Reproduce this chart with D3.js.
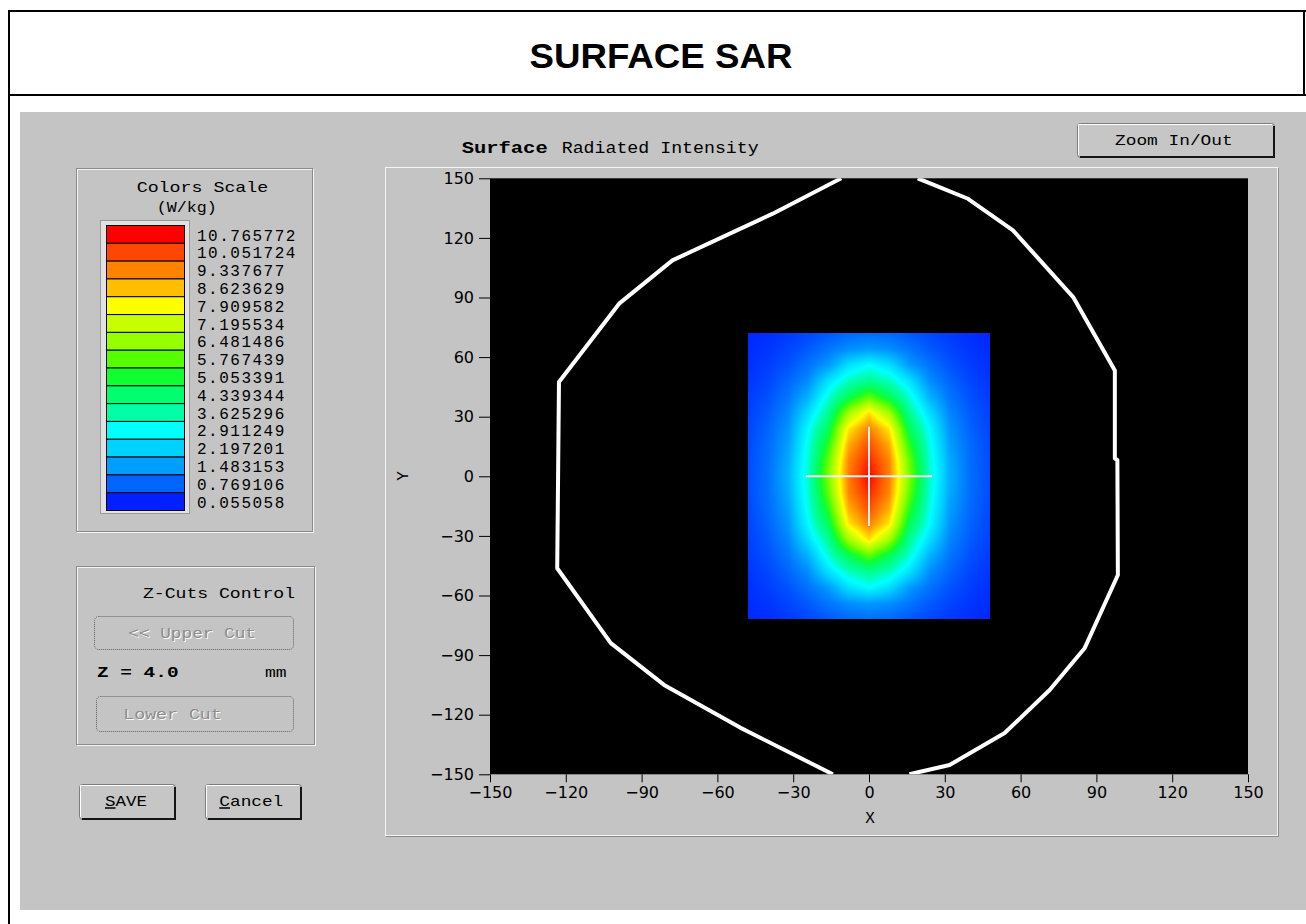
<!DOCTYPE html>
<html>
<head>
<meta charset="utf-8">
<script src="https://cdn.jsdelivr.net/npm/d3@7"></script>
<style>
  body { margin: 0; background: #fff; }
  svg { display: block; }
</style>
</head>
<body>
<div id="chart"></div>
<script>
// colour scale of the SAR window (W/kg), top to bottom
const legendValues = [10.765772, 10.051724, 9.337677, 8.623629, 7.909582, 7.195534, 6.481486, 5.767439,
                      5.053391, 4.339344, 3.625296, 2.911249, 2.197201, 1.483153, 0.769106, 0.055058];
const legendColors = ["#ff0000", "#ff4600", "#ff8200", "#ffbe00", "#ffff00", "#c8ff00", "#96ff00", "#55ff00",
                      "#10ff30", "#00ff6e", "#00ffa6", "#00ffff", "#00d2ff", "#009eff", "#0064ff", "#0020ff"];

const xTicks = [-150, -120, -90, -60, -30, 0, 30, 60, 90, 120, 150];
const yTicks = [-150, -120, -90, -60, -30, 0, 30, 60, 90, 120, 150];

// scanned area, one quadrant (mm) - the field is mirrored in x and y
const gridX = [0, 8, 16, 24, 32, 40, 48];
const gridY = [0, 8, 16, 24, 32, 40, 48, 56, 64, 72];
const sarQuadrant = [
  [10.77, 9.41, 6.20, 3.33, 1.70, 0.90, 0.50],
  [10.39, 9.30, 5.92, 3.24, 1.63, 0.88, 0.49],
  [ 9.98, 8.83, 5.33, 3.09, 1.49, 0.84, 0.47],
  [ 9.37, 8.14, 4.59, 2.87, 1.35, 0.76, 0.43],
  [ 8.21, 6.61, 3.85, 2.37, 1.17, 0.67, 0.38],
  [ 5.83, 4.61, 3.20, 1.76, 0.97, 0.56, 0.33],
  [ 3.90, 3.41, 2.45, 1.28, 0.78, 0.45, 0.27],
  [ 2.90, 2.41, 1.44, 0.95, 0.58, 0.36, 0.20],
  [ 1.43, 1.29, 0.98, 0.66, 0.43, 0.27, 0.17],
  [ 0.88, 0.81, 0.63, 0.45, 0.31, 0.20, 0.12]
];

const crossHalf = 25;
const zCut = 4.0;

// phantom outline (mm)
const outlineLeft = [[-11, 150], [-38.1, 132.2], [-77.8, 108.7], [-98.9, 86.9], [-122.7, 47.5], [-123.4, -46.3],
                     [-102.2, -84], [-81.1, -105], [-51, -126.5], [-14.3, -150]];
const outlineRight = [[19.3, 150], [39.2, 139.7], [57, 123.8], [80.8, 90.2], [97.3, 53.3], [97.3, 8.9], [98.3, 8.2],
                      [98.5, -49.7], [85.4, -86.4], [71.5, -107.6], [53.7, -129.2], [31.9, -145.3], [16, -150]];

const W = 1306, H = 924;
const MONO = "'Liberation Mono', 'DejaVu Sans Mono', monospace";

const svg = d3.select("#chart").append("svg")
  .attr("width", W)
  .attr("height", H);

function monoText(g, x, y, str, o = {}) {
  const t = g.append("text")
    .attr("x", x).attr("y", y)
    .attr("dy", "0.35em")
    .attr("font-family", MONO)
    .attr("font-size", o.size || 15)
    .attr("text-anchor", o.anchor || "start")
    .attr("fill", o.fill || "#000");
  if (o.bold) t.attr("font-weight", "bold");
  if (o.len) t.attr("textLength", o.len).attr("lengthAdjust", "spacingAndGlyphs");
  if (o.spacing) t.attr("letter-spacing", o.spacing);
  t.text(str);
  return t;
}

// page frame + title
svg.append("rect").attr("x", 20).attr("y", 112).attr("width", 1286).attr("height", 798).attr("fill", "#c4c4c4");
const frame = svg.append("g").attr("stroke", "#000").attr("stroke-width", 2);
frame.append("line").attr("x1", 8).attr("x2", W).attr("y1", 11).attr("y2", 11);
frame.append("line").attr("x1", 8).attr("x2", W).attr("y1", 95).attr("y2", 95);
frame.append("line").attr("x1", 9).attr("x2", 9).attr("y1", 10).attr("y2", H);
frame.append("line").attr("x1", 1304).attr("x2", 1304).attr("y1", 10).attr("y2", 96);

svg.append("text")
  .attr("x", 661).attr("y", 68)
  .attr("text-anchor", "middle")
  .attr("font-family", "'Liberation Sans', Arial, sans-serif")
  .attr("font-weight", "bold")
  .attr("font-size", 35)
  .attr("textLength", 263)
  .attr("lengthAdjust", "spacingAndGlyphs")
  .text("SURFACE SAR");

// etched group boxes
function etched(x, y, w, h) {
  svg.append("rect").attr("x", x + 1.5).attr("y", y + 1.5).attr("width", w).attr("height", h)
    .attr("fill", "none").attr("stroke", "#f4f4f4").attr("stroke-width", 1);
  svg.append("rect").attr("x", x + 0.5).attr("y", y + 0.5).attr("width", w).attr("height", h)
    .attr("fill", "none").attr("stroke", "#8a8a8a").attr("stroke-width", 1);
}
etched(76, 168, 236, 363);
etched(76, 566, 238, 178);

// plot panel frame
svg.append("rect").attr("x", 385.5).attr("y", 167.5).attr("width", 892).attr("height", 668)
  .attr("fill", "none").attr("stroke", "#f4f4f4");
svg.append("path").attr("d", "M386,836.5H1278.5V168").attr("fill", "none").attr("stroke", "#8a8a8a");

// ---- colours scale ----
monoText(svg, 136.7, 186.7, "Colors Scale", { len: 131.6 });
monoText(svg, 156.7, 206.7, "(W/kg)", { len: 60 });

svg.append("rect").attr("x", 100.5).attr("y", 220.5).attr("width", 89).attr("height", 293)
  .attr("fill", "#e2e2e2").attr("stroke", "#9a9a9a");
const cellY = d3.scaleBand().domain(d3.range(legendValues.length)).range([225, 510]);
const legend = svg.append("g");
legend.selectAll("rect")
  .data(legendColors)
  .join("rect")
  .attr("x", 106.5)
  .attr("y", (d, i) => cellY(i) + 0.5)
  .attr("width", 78)
  .attr("height", cellY.bandwidth())
  .attr("fill", d => d)
  .attr("stroke", "#000")
  .attr("stroke-width", 1);
const fmt = d3.format(".6f");
legendValues.forEach((v, i) => {
  monoText(legend, 197, cellY(i) + cellY.bandwidth() / 2 + 1, fmt(v), { spacing: 1.5, size: 16 });
});

// ---- Z cuts control ----
monoText(svg, 143, 592.3, "Z-Cuts Control", { len: 152 });

function disabledButton(x, y, w, h, label, tx, len) {
  svg.append("rect").attr("x", x + 0.5).attr("y", y + 0.5).attr("width", w).attr("height", h).attr("rx", 4)
    .attr("fill", "none").attr("stroke", "#606060").attr("stroke-dasharray", "1,1");
  monoText(svg, tx + 1, y + h / 2 + 1, label, { len: len, fill: "#ffffff" });
  monoText(svg, tx, y + h / 2, label, { len: len, fill: "#8c8c8c" });
}
disabledButton(94, 616, 199, 33, "<< Upper Cut", 128.3, 127.7);
disabledButton(96, 696, 197, 35, "Lower Cut", 123.3, 98.4);

monoText(svg, 97, 671.7, `Z = ${zCut.toFixed(1)}`, { bold: true, len: 81.6 });
monoText(svg, 265, 671.7, "mm", { len: 21.7 });

// raised buttons
function raisedButton(x, y, w, h) {
  const g = svg.append("g");
  g.append("rect").attr("x", x + 0.5).attr("y", y + 0.5).attr("width", w - 1).attr("height", h - 1).attr("rx", 3)
    .attr("fill", "#c6c6c6").attr("stroke", "#7c7c7c");
  g.append("path").attr("d", `M${x + 3},${y + h - 1}H${x + w - 1}V${y + 3}`)
    .attr("fill", "none").attr("stroke", "#151515").attr("stroke-width", 2);
  g.append("path").attr("d", `M${x + 1.5},${y + h - 3}V${y + 1.5}H${x + w - 3}`)
    .attr("fill", "none").attr("stroke", "#ffffff").attr("stroke-width", 1);
  return g;
}
function underlinedLabel(g, cx, cy, first, rest, len) {
  const t = g.append("text")
    .attr("x", cx).attr("y", cy).attr("dy", "0.35em")
    .attr("text-anchor", "middle")
    .attr("font-family", MONO).attr("font-size", 15)
    .attr("textLength", len).attr("lengthAdjust", "spacingAndGlyphs");
  t.append("tspan").attr("text-decoration", "underline").text(first);
  t.append("tspan").text(rest);
}
underlinedLabel(raisedButton(79, 784, 97, 36), 126, 801, "S", "AVE", 42);
underlinedLabel(raisedButton(205, 784, 97, 36), 251.3, 801, "C", "ancel", 64);

const zb = raisedButton(1077, 123, 198, 35);
monoText(zb, 1115, 140, "Zoom In/Out", { len: 117.7 });

// ---- plot ----
monoText(svg, 461.7, 147, "Surface", { bold: true, size: 16, len: 86 });
monoText(svg, 561.7, 147.5, "Radiated Intensity", { size: 16, len: 197 });

const x = d3.scaleLinear().domain([-150, 150]).range([490, 1248]);
const y = d3.scaleLinear().domain([-150, 150]).range([774.3, 178.3]);

svg.append("defs").append("clipPath").attr("id", "plotClip")
  .append("rect")
  .attr("x", x(-150)).attr("y", y(150))
  .attr("width", x(150) - x(-150)).attr("height", y(-150) - y(150));

svg.append("rect")
  .attr("x", x(-150)).attr("y", y(150))
  .attr("width", x(150) - x(-150)).attr("height", y(-150) - y(150))
  .attr("fill", "#000");

// heat map: bilinear over the measured grid
const color = d3.scaleLinear()
  .domain(legendValues.slice().reverse())
  .range(legendColors.slice().reverse())
  .clamp(true);

function sample(mx, my) {
  const ax = Math.min(Math.abs(mx), gridX[gridX.length - 1]);
  const ay = Math.min(Math.abs(my), gridY[gridY.length - 1]);
  let i = Math.min(d3.bisectRight(gridX, ax) - 1, gridX.length - 2);
  let j = Math.min(d3.bisectRight(gridY, ay) - 1, gridY.length - 2);
  const tx = (ax - gridX[i]) / (gridX[i + 1] - gridX[i]);
  const ty = (ay - gridY[j]) / (gridY[j + 1] - gridY[j]);
  const a = sarQuadrant[j][i], b = sarQuadrant[j][i + 1];
  const c = sarQuadrant[j + 1][i], d = sarQuadrant[j + 1][i + 1];
  return (a * (1 - tx) + b * tx) * (1 - ty) + (c * (1 - tx) + d * tx) * ty;
}

const xMax = gridX[gridX.length - 1], yMax = gridY[gridY.length - 1];
const hx0 = Math.round(x(-xMax)), hx1 = Math.round(x(xMax));
const hy0 = Math.round(y(yMax)), hy1 = Math.round(y(-yMax));
const cw = hx1 - hx0, ch = hy1 - hy0;
const canvas = document.createElement("canvas");
canvas.width = cw; canvas.height = ch;
const ctx = canvas.getContext("2d");
const img = ctx.createImageData(cw, ch);
for (let py = 0; py < ch; py++) {
  const my = y.invert(hy0 + py + 0.5);
  for (let px = 0; px < cw; px++) {
    const mx = x.invert(hx0 + px + 0.5);
    const c = d3.rgb(color(sample(mx, my)));
    const k = (py * cw + px) * 4;
    img.data[k] = c.r; img.data[k + 1] = c.g; img.data[k + 2] = c.b; img.data[k + 3] = 255;
  }
}
ctx.putImageData(img, 0, 0);
svg.append("image")
  .attr("x", hx0).attr("y", hy0)
  .attr("width", cw).attr("height", ch)
  .attr("href", canvas.toDataURL());

// crosshair at the peak
const cross = svg.append("g").attr("stroke", "#f2f2f2").attr("stroke-width", 2);
cross.append("line").attr("x1", x(-crossHalf)).attr("x2", x(crossHalf)).attr("y1", y(0)).attr("y2", y(0));
cross.append("line").attr("x1", x(0)).attr("x2", x(0)).attr("y1", y(crossHalf)).attr("y2", y(-crossHalf));

// outline
const line = d3.line().x(d => x(d[0])).y(d => y(d[1]));
const outl = svg.append("g").attr("clip-path", "url(#plotClip)");
[outlineLeft, outlineRight].forEach(pts => {
  outl.append("path")
    .attr("d", line(pts))
    .attr("fill", "none")
    .attr("stroke", "#fff")
    .attr("stroke-width", 4)
    .attr("stroke-linejoin", "round");
});

// axes
const axisFont = "'DejaVu Sans', sans-serif";
const gx = svg.append("g")
  .attr("transform", `translate(0,${y(-150)})`)
  .call(d3.axisBottom(x).tickValues(xTicks).tickSize(8).tickPadding(4));
const gy = svg.append("g")
  .attr("transform", `translate(${x(-150)},0)`)
  .call(d3.axisLeft(y).tickValues(yTicks).tickSize(11).tickPadding(5));
[gx, gy].forEach(g => {
  g.select(".domain").remove();
  g.selectAll(".tick line").attr("stroke", "#000");
  g.selectAll(".tick text").attr("font-family", axisFont).attr("font-size", 16).attr("fill", "#000");
});

monoText(svg, 870, 817, "X", { anchor: "middle", size: 16 });
svg.append("text")
  .attr("transform", `translate(402,476) rotate(-90)`)
  .attr("dy", "0.35em")
  .attr("text-anchor", "middle")
  .attr("font-family", MONO)
  .attr("font-size", 16)
  .text("Y");
</script>
</body>
</html>
